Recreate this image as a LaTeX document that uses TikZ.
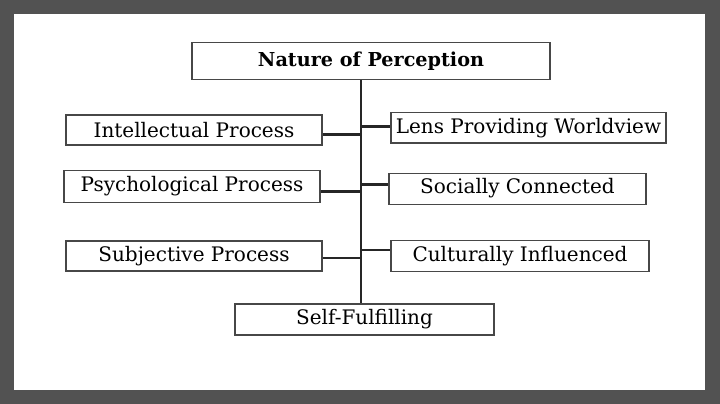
\documentclass[tikz,border=0pt]{standalone}
\usepackage{fontspec}
\setmainfont{DejaVu Serif}
\usepackage{tikz}
\usetikzlibrary{calc}

\begin{document}
\begin{tikzpicture}[x=1pt,y=-1pt,
    box/.style={draw=black!72, line width=1.2pt, fill=white, inner sep=0pt, font=\fontsize{20}{24}\selectfont},
    branch/.style={line width=2.8pt, black!85}]
    % Rahmen
    \fill[black!68] (0,0) rectangle (720,404);
    \fill[white] (13.5,14) rectangle (704.5,389.5);
    % Kaesten
    \node[box, minimum width=358, minimum height=37, font=\bfseries\fontsize{19.2}{23}\selectfont] (nature) at (371,61) {Nature of Perception};
    \node[box, minimum width=256, minimum height=30] (intel) at (194,130) {Intellectual Process};
    \node[box, minimum width=275, minimum height=30.5] (lens) at (528.5,127.8) {Lens Providing Worldview};
    \node[box, minimum width=256, minimum height=31.5] (psych) at (192,186.5) {Psychological Process};
    \node[box, minimum width=257, minimum height=31] (social) at (517.5,188.6) {Socially Connected};
    \node[box, minimum width=256, minimum height=30] (subj) at (194,256) {Subjective Process};
    \node[box, minimum width=258, minimum height=31] (cult) at (520,256.2) {Culturally Influenced};
    \node[box, minimum width=259, minimum height=31] (self) at (364.5,319.5) {Self-Fulfilling};
    % Stamm
    \coordinate (trunk) at (361,0);
    \draw[branch, line width=2.2pt] (nature.south -| trunk) -- (self.north -| trunk);
    % Abzweigungen
    \coordinate (jintel) at (361,134.5);
    \coordinate (jlens) at (361,126.5);
    \coordinate (jpsych) at (361,191.5);
    \coordinate (jsocial) at (361,184.5);
    \coordinate (jsubj) at (361,258);
    \coordinate (jcult) at (361,250);
    \draw[branch] (jintel -| intel.east) -- (jintel);
    \draw[branch] (jlens) -- (jlens -| lens.west);
    \draw[branch] (jpsych -| psych.east) -- (jpsych);
    \draw[branch] (jsocial) -- (jsocial -| social.west);
    \draw[branch] (jsubj -| subj.east) -- (jsubj);
    \draw[branch] (jcult) -- (jcult -| cult.west);
\end{tikzpicture}
\end{document}
